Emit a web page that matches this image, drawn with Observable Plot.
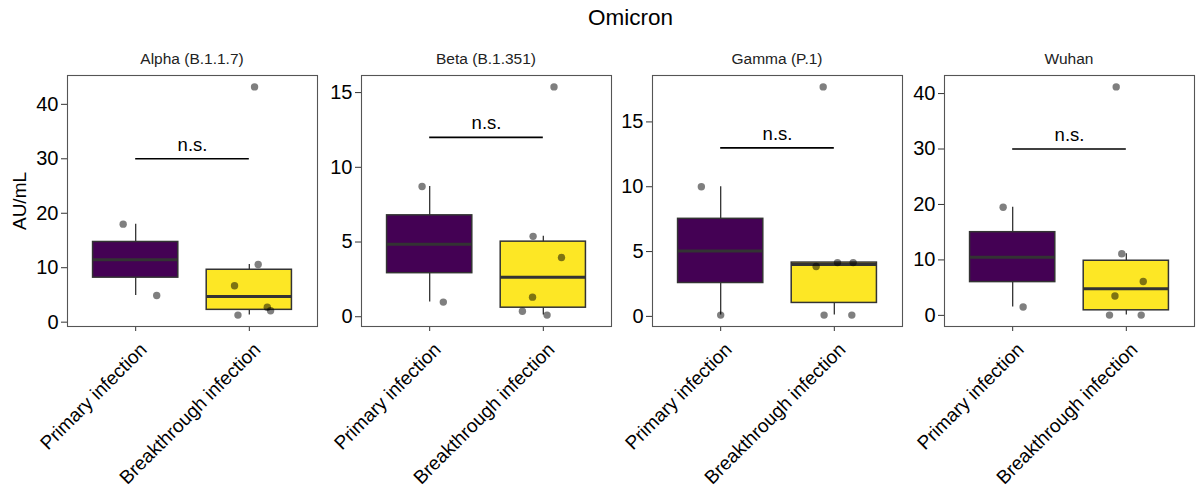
<!DOCTYPE html>
<html>
<head>
<meta charset="utf-8">
<script src="https://cdn.jsdelivr.net/npm/d3@7"></script>
<script src="https://cdn.jsdelivr.net/npm/@observablehq/plot@0.6"></script>
<style>
  html, body { margin: 0; padding: 0; background: #fff; }
  #root { position: relative; width: 1196px; height: 491px; overflow: hidden; font-family: "Liberation Sans", Arial, sans-serif; }
  .panel { position: absolute; top: 0; }
  .title { position: absolute; font-size: 22.5px; color: #000; white-space: nowrap; transform: translateX(-50%); }
  .strip { position: absolute; font-size: 15.5px; color: #222; white-space: nowrap; transform: translateX(-50%); }
  .ylab { position: absolute; font-size: 19px; color: #000; white-space: nowrap; transform: translate(-50%, -50%) rotate(-90deg); }
</style>
</head>
<body>
<div id="root"></div>
<script>
// ---- data ----
const mainTitle = "Omicron";
const yLabel = "AU/mL";
const variants = ["Alpha (B.1.1.7)", "Beta (B.1.351)", "Gamma (P.1)", "Wuhan"];
const groups = ["Primary infection", "Breakthrough infection"];
const groupColors = ["#440154", "#FDE725"];

const primaryAlpha = [18.0, 4.9];
const breakthroughAlpha = [43.2, 10.6, 6.7, 1.3, 2.75, 2.1];
const primaryBeta = [8.72, 0.98];
const breakthroughBeta = [15.38, 5.38, 3.96, 1.31, 0.37, 0.11];
const primaryGamma = [10.0, 0.1];
const breakthroughGamma = [17.7, 3.85, 4.15, 4.15, 0.1, 0.1];
const primaryWuhan = [19.5, 1.5];
const breakthroughWuhan = [41.2, 11.1, 6.1, 3.5, 0.05, 0.05];

// horizontal jitter of each point (category units)
const jitterPrimaryAlpha = [-0.11, 0.185];
const jitterBreakthroughAlpha = [0.046, 0.078, -0.13, -0.10, 0.158, 0.187];
const jitterPrimaryBeta = [-0.067, 0.12];
const jitterBreakthroughBeta = [0.094, -0.09, 0.16, -0.095, -0.184, 0.033];
const jitterPrimaryGamma = [-0.17, 0.0];
const jitterBreakthroughGamma = [-0.098, -0.16, 0.028, 0.166, -0.09, 0.154];
const jitterPrimaryWuhan = [-0.084, 0.092];
const jitterBreakthroughWuhan = [-0.089, -0.04, 0.149, -0.10, -0.148, 0.131];

const sigLevels = [30, 12, 13, 30];
const sigLabel = "n.s.";
const yTicksAlpha = [0, 10, 20, 30, 40];
const yTicksBeta = [0, 5, 10, 15];
const yTicksGamma = [0, 5, 10, 15];
const yTicksWuhan = [0, 10, 20, 30, 40];

// ---- assemble ----
const primaryValues = [primaryAlpha, primaryBeta, primaryGamma, primaryWuhan];
const breakthroughValues = [breakthroughAlpha, breakthroughBeta, breakthroughGamma, breakthroughWuhan];
const primaryJitter = [jitterPrimaryAlpha, jitterPrimaryBeta, jitterPrimaryGamma, jitterPrimaryWuhan];
const breakthroughJitter = [jitterBreakthroughAlpha, jitterBreakthroughBeta, jitterBreakthroughGamma, jitterBreakthroughWuhan];
const yTicks = [yTicksAlpha, yTicksBeta, yTicksGamma, yTicksWuhan];

// layout
const panelLefts = [67, 361, 652, 944];
const panelWidth = 250;
const panelTop = 75, panelBottom = 326, H = 491;
const ML = 62, MR = 2;

const root = document.getElementById("root");

function boxStats(values, pos, group) {
  const s = values.slice().sort(d3.ascending);
  const q1 = d3.quantile(s, 0.25), q2 = d3.quantile(s, 0.5), q3 = d3.quantile(s, 0.75);
  const iqr = q3 - q1;
  const lo = d3.min(s.filter(v => v >= q1 - 1.5 * iqr));
  const hi = d3.max(s.filter(v => v <= q3 + 1.5 * iqr));
  return {pos, group, q1, q2, q3, lo, hi};
}

variants.forEach((variant, i) => {
  const stats = [
    boxStats(primaryValues[i], 1, groups[0]),
    boxStats(breakthroughValues[i], 2, groups[1])
  ];
  const pts = [];
  primaryValues[i].forEach((v, k) => pts.push({x: 1 + primaryJitter[i][k], y: v}));
  breakthroughValues[i].forEach((v, k) => pts.push({x: 2 + breakthroughJitter[i][k], y: v}));
  const all = pts.map(d => d.y).concat([sigLevels[i]]);
  const lo = d3.min(all), hi = d3.max(all), r = hi - lo;
  const yDomain = [lo - 0.05 * r, hi + 0.05 * r];

  const chart = Plot.plot({
    width: ML + panelWidth + MR,
    height: H,
    marginLeft: ML, marginRight: MR, marginTop: panelTop, marginBottom: H - panelBottom,
    style: {fontFamily: '"Liberation Sans", Arial, sans-serif', background: "transparent", color: "#000", overflow: "visible"},
    x: {domain: [0.4, 2.6], label: null},
    y: {domain: yDomain, label: null},
    color: {domain: groups, range: groupColors},
    marks: [
      Plot.axisY({ticks: yTicks[i], tickSize: 6, tickPadding: 3, fontSize: 20, stroke: "#333", label: null}),
      Plot.axisX({ticks: [1, 2], tickFormat: () => "", tickSize: 5, stroke: "#333", label: null}),
      Plot.axisX({ticks: [1, 2], tickFormat: d => groups[d - 1], tickRotate: -45, tickSize: 0, tickPadding: 8, fontSize: 19, label: null, textAnchor: "end", dx: 8, dy: 12}),
      Plot.ruleX(stats, {x: "pos", y1: "lo", y2: "hi", stroke: "#333", strokeWidth: 1.3}),
      Plot.rectY(stats, {x1: d => d.pos - 0.375, x2: d => d.pos + 0.375, y1: "q1", y2: "q3", fill: "group", stroke: "#333", strokeWidth: 1.5}),
      Plot.ruleY(stats, {x1: d => d.pos - 0.375, x2: d => d.pos + 0.375, y: "q2", stroke: "#333", strokeWidth: 3}),
      Plot.dot(pts, {x: "x", y: "y", r: 3.7, fill: "#000", fillOpacity: 0.5, stroke: null}),
      Plot.ruleY([sigLevels[i]], {x1: () => 1, x2: () => 2, y: d => d, stroke: "#000", strokeWidth: 1.6}),
      Plot.text([sigLevels[i]], {x: () => 1.5, y: d => d, text: () => sigLabel, lineAnchor: "bottom", dy: -8, fontSize: 18.5, fill: "#000"}),
      Plot.frame({stroke: "#555", strokeWidth: 1.1})
    ]
  });
  chart.classList.add("panel");
  chart.style.left = (panelLefts[i] - ML) + "px";
  root.appendChild(chart);

  const strip = document.createElement("div");
  strip.className = "strip";
  strip.textContent = variant;
  strip.style.left = (panelLefts[i] + panelWidth / 2) + "px";
  strip.style.top = "50px";
  root.appendChild(strip);
});

const t = document.createElement("div");
t.className = "title";
t.textContent = mainTitle;
t.style.left = ((panelLefts[0] + panelLefts[3] + panelWidth) / 2) + "px";
t.style.top = "5px";
root.appendChild(t);

const yl = document.createElement("div");
yl.className = "ylab";
yl.textContent = yLabel;
yl.style.left = "20px";
yl.style.top = ((panelTop + panelBottom) / 2) + "px";
root.appendChild(yl);
</script>
</body>
</html>
